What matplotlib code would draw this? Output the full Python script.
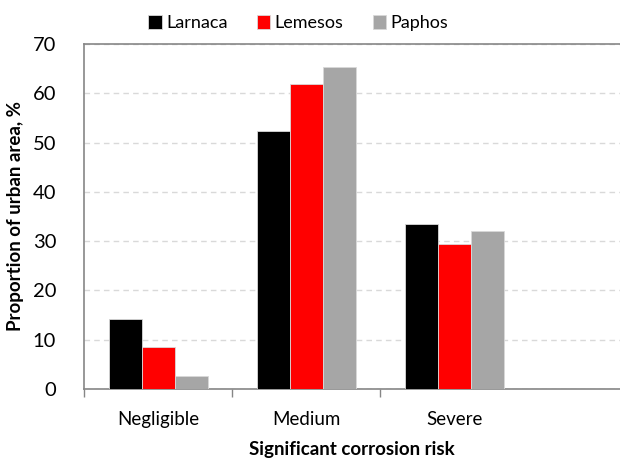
import numpy as np
import matplotlib.pyplot as plt

plt.rcParams['font.family'] = ['Lato', 'DejaVu Sans']

categories = ['Negligible', 'Medium', 'Severe']
series = ['Larnaca', 'Lemesos', 'Paphos']
larnaca = [14.1, 52.4, 33.4]
lemesos = [8.5, 61.9, 29.4]
paphos = [2.6, 65.3, 32.0]
colors = ['#000000', '#ff0000', '#a6a6a6']

fig = plt.figure(figsize=(6.2, 4.63), dpi=100)
ax = fig.add_axes([0.1355, 0.160, 0.8645, 0.745])

x = np.arange(len(categories))
w = 0.223
for k, (vals, name) in enumerate(zip([larnaca, lemesos, paphos], series)):
    ax.bar(x + (k - 1) * w, vals, w, color=colors[k], label=name,
           edgecolor='#d9d9d9', linewidth=0.6, zorder=3)

ax.set_xlim(-0.5, 3.12)
ax.set_ylim(0, 70)
ax.set_yticks(range(0, 71, 10))
ax.set_xticks(x)
ax.set_xticklabels(categories)
ax.set_xticks([-0.5, 0.5, 1.5], minor=True)
ax.tick_params(axis='x', which='major', length=0, pad=16, labelsize=13.5)
ax.tick_params(axis='x', which='minor', length=6, color='#868686', width=1)
ax.tick_params(axis='y', length=0, pad=20, labelsize=14.5)

ax.yaxis.grid(True, linestyle=(0, (4, 3)), color='#d9d9d9', linewidth=1, zorder=0)
for side in ['left', 'bottom', 'top']:
    ax.spines[side].set_color('#868686')
    ax.spines[side].set_linewidth(1.2)
ax.spines['right'].set_visible(False)

ax.set_xlabel('Significant corrosion risk', fontweight='bold', fontsize=13.5, labelpad=9)
ax.set_ylabel('Proportion of urban area, %', fontweight='bold', fontsize=13.5, labelpad=6)

ax.legend(loc='upper center', bbox_to_anchor=(0.40, 1.13), ncol=3, frameon=False,
          fontsize=13, handlelength=0.75, handleheight=0.75, handletextpad=0.25,
          columnspacing=1.6)

fig.savefig('out.png', dpi=100)
